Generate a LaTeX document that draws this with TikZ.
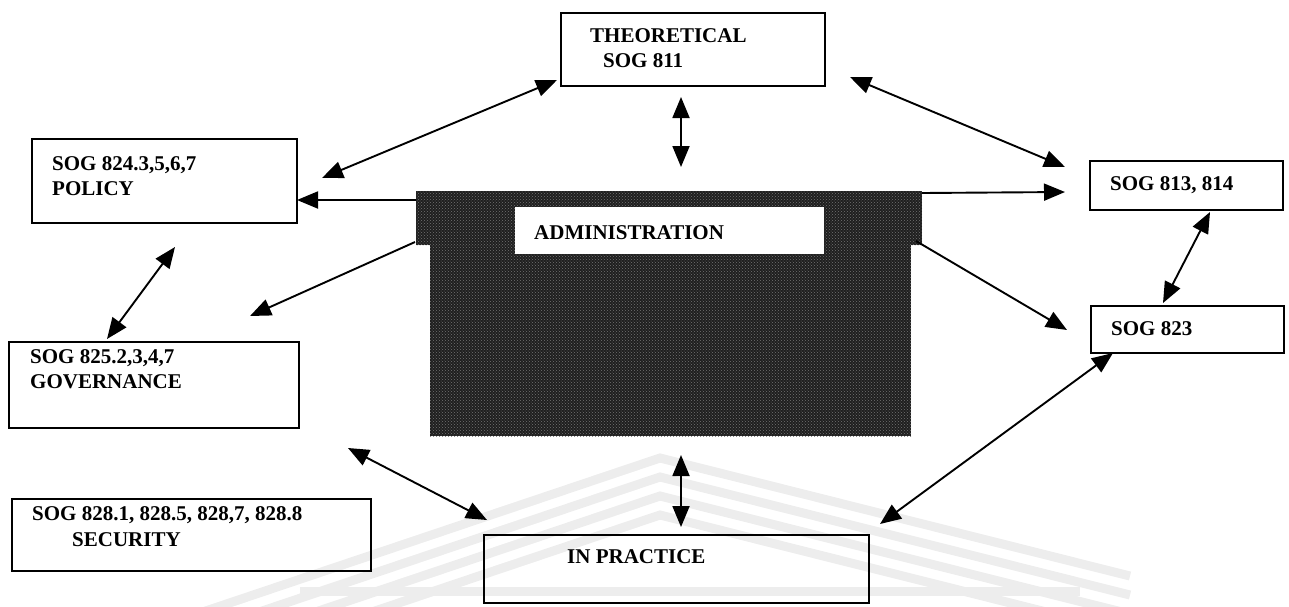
\documentclass[tikz,border=0pt]{standalone}
\usepackage{fontspec}
\setmainfont{Liberation Serif}
\usetikzlibrary{arrows.meta,patterns}
\begin{document}
\begin{tikzpicture}[x=1pt,y=-1pt,
  >={Triangle[length=21pt,width=17pt]},
  conn/.style={line width=1.9pt},
  frame/.style={draw, line width=1.9pt, anchor=north west, inner sep=0pt},
  lbl/.style={anchor=base west, inner sep=0pt, font=\fontsize{21}{25}\selectfont\bfseries},
  dark/.style={fill=black!88, anchor=north west, inner sep=0pt},
  band/.style={draw=black!7, line width=9pt, line join=miter}
]
\useasboundingbox (0,0) rectangle (1289,606);

% faint background bands
\foreach \p in {458,477,496,515}
  \draw[band] (170,\p+165) -- (660,\p) -- (1130,\p+118);
\draw[band] (300,591) -- (1080,591);

% outer boxes
\node[frame, minimum width=264pt, minimum height=73pt] (theo) at (560,12) {};
\node[lbl] (theoA) at (590,42) {THEORETICAL};
\node[lbl] (theoB) at (603,67) {SOG 811};

\node[frame, minimum width=265pt, minimum height=84pt] (policy) at (31,138) {};
\node[lbl] (policyA) at (52,170) {SOG 824.3,5,6,7};
\node[lbl] (policyB) at (52,195) {POLICY};

\node[frame, minimum width=290pt, minimum height=86pt] (gov) at (8,341) {};
\node[lbl] (govA) at (30,363) {SOG 825.2,3,4,7};
\node[lbl] (govB) at (30,388) {GOVERNANCE};

\node[frame, minimum width=359pt, minimum height=72pt] (sec) at (11,498) {};
\node[lbl] (secA) at (32,520) {SOG 828.1, 828.5, 828,7, 828.8};
\node[lbl] (secB) at (72,546) {SECURITY};

\node[frame, minimum width=385pt, minimum height=68pt] (practice) at (483,534) {};
\node[lbl] (practiceA) at (567,563) {IN PRACTICE};

\node[frame, minimum width=193pt, minimum height=49pt] (s813) at (1089,160) {};
\node[lbl] (s813A) at (1110,190) {SOG 813, 814};

\node[frame, minimum width=193pt, minimum height=47pt] (s823) at (1090,305) {};
\node[lbl] (s823A) at (1111,335) {SOG 823};

% central administration block
\node[dark, minimum width=506pt, minimum height=54pt] (admtop) at (416,191) {};
\node[dark, minimum width=481pt, minimum height=191pt] (adm) at (430,245) {};
\fill[pattern=crosshatch dots, pattern color=black!55] (416,191) rectangle (922,245);
\fill[pattern=crosshatch dots, pattern color=black!55] (430,245) rectangle (911,436);
\node[fill=white, anchor=north west, inner sep=0pt, minimum width=309pt, minimum height=47pt] (admlabel) at (515,207) {};
\node[lbl] (admtext) at (534,239) {ADMINISTRATION};

% connector end points
\coordinate (tP) at (557,80);   \coordinate (pT) at (322,178);
\coordinate (tA) at (681,97);   \coordinate (aT) at (681,167);
\coordinate (tS) at (850,77);   \coordinate (sT) at (1065,167);
\coordinate (aP) at (416,200);  \coordinate (pA) at (297,200);
\coordinate (aS) at (922,193);  \coordinate (sA) at (1065,192);
\coordinate (aG) at (415,242);  \coordinate (gA) at (250,316);
\coordinate (aC) at (916,241);  \coordinate (cA) at (1067,330);
\coordinate (pG) at (175,247);  \coordinate (gP) at (107,339);
\coordinate (sC) at (1210,212); \coordinate (cS) at (1163,303);
\coordinate (gI) at (348,448);  \coordinate (iG) at (487,520);
\coordinate (aI) at (681,455);  \coordinate (iA) at (681,527);
\coordinate (iC) at (880,524);  \coordinate (cI) at (1113,353);

% connectors
\draw[conn,<->] (pT) -- (tP);
\draw[conn,<->] (tA) -- (aT);
\draw[conn,<->] (tS) -- (sT);
\draw[conn,->] (aP) -- (pA);
\draw[conn,->] (aS) -- (sA);
\draw[conn,->] (aG) -- (gA);
\draw[conn,->] (aC) -- (cA);
\draw[conn,<->] (pG) -- (gP);
\draw[conn,<->] (sC) -- (cS);
\draw[conn,<->] (gI) -- (iG);
\draw[conn,<->] (aI) -- (iA);
\draw[conn,<->] (iC) -- (cI);
\end{tikzpicture}
\end{document}
